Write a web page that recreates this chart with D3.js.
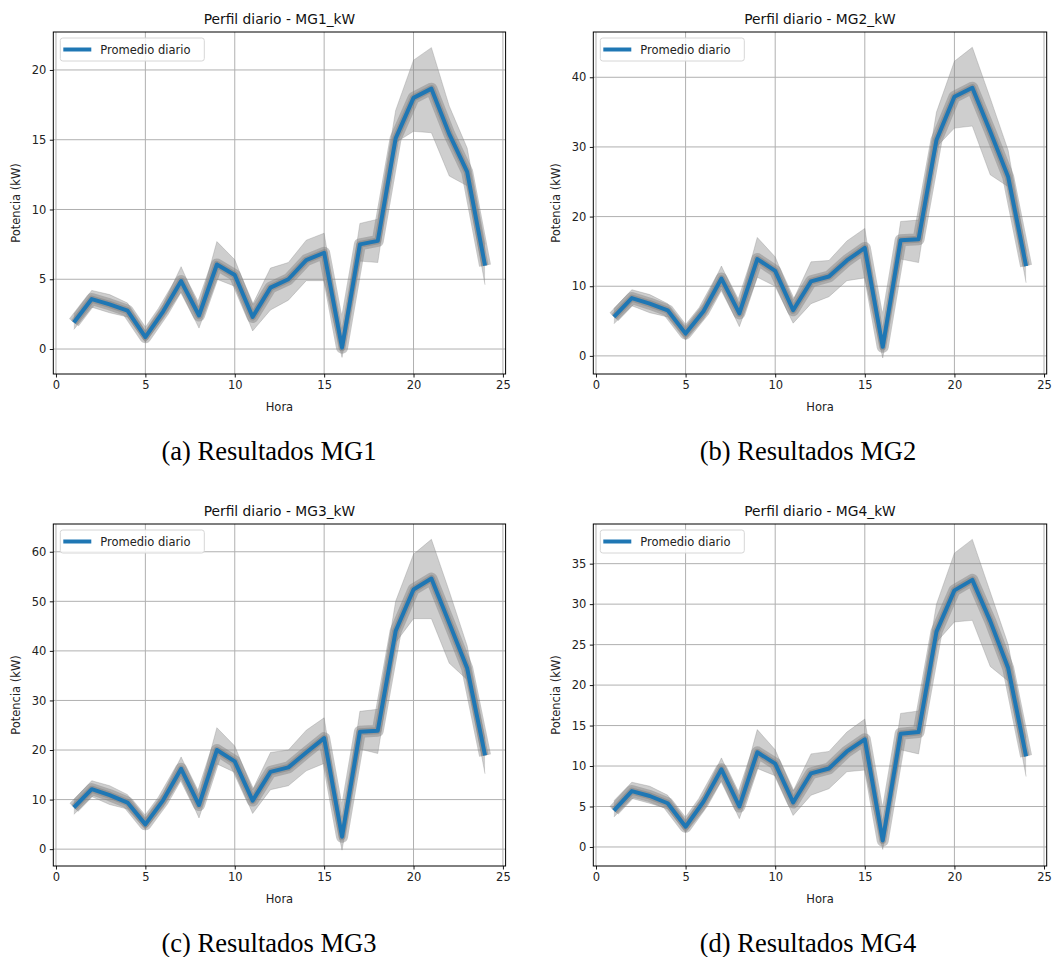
<!DOCTYPE html>
<html>
<head>
<meta charset="utf-8">
<script src="https://cdn.jsdelivr.net/npm/d3@7"></script>
<style>
  html, body { margin: 0; padding: 0; background: #fff; }
  svg { display: block; }
</style>
</head>
<body>
<svg id="chart" width="1059" height="957"></svg>
<script>
// ---------- DATA ----------
const hours = [1,2,3,4,5,6,7,8,9,10,11,12,13,14,15,16,17,18,19,20,21,22,23,24];
const xTicks = [0,5,10,15,20,25];

const titles = ["Perfil diario - MG1_kW","Perfil diario - MG2_kW","Perfil diario - MG3_kW","Perfil diario - MG4_kW"];
const captions = ["(a) Resultados MG1","(b) Resultados MG2","(c) Resultados MG3","(d) Resultados MG4"];

// Daily mean ("Promedio diario")
const mg1Mean = [1.9,3.58,3.2,2.75,0.85,2.7,4.87,2.4,6.06,5.3,2.3,4.4,5.0,6.37,6.9,0.1,7.5,7.75,15.1,18.0,18.66,15.4,12.7,5.97];
const mg2Mean = [5.6,8.3,7.5,6.55,3.2,6.4,11.1,6.1,13.9,12.2,6.55,10.7,11.4,13.7,15.5,1.3,16.6,16.75,31.0,37.2,38.5,32.2,25.7,12.9];
const mg3Mean = [8.4,12.1,10.9,9.4,5.0,9.9,16.2,8.9,20.0,17.7,9.8,15.6,16.5,19.5,22.4,2.5,23.7,23.9,44.0,52.4,54.6,45.6,36.5,18.9];
const mg4Mean = [4.5,6.9,6.3,5.4,2.5,5.6,9.6,5.0,11.7,10.3,5.5,9.1,9.7,11.8,13.3,0.8,14.0,14.2,26.6,31.7,33.0,27.9,22.1,11.2];

// Envelope of the individual daily profiles (upper / lower)
const mg1Upper = [2.5,4.2,3.9,3.3,1.3,3.2,5.9,3.0,7.7,6.4,3.2,5.8,6.2,7.8,8.3,0.6,9.0,9.3,17.1,20.7,21.6,17.4,14.4,7.5];
const mg1Lower = [1.4,3.0,2.6,2.3,0.5,2.2,4.1,1.5,5.0,4.5,1.3,2.8,3.5,4.9,4.9,-0.6,6.3,6.2,14.8,15.6,15.5,12.4,11.7,4.6];
const mg2Upper = [6.8,9.5,8.8,7.5,4.2,7.5,12.9,7.5,17.0,14.2,8.0,13.5,13.7,16.5,18.3,2.0,19.3,19.5,35.0,42.3,44.3,37.0,29.5,15.0];
const mg2Lower = [4.6,7.2,6.2,5.6,2.3,5.3,9.6,4.2,11.3,10.0,4.7,7.5,8.5,10.8,11.2,-0.3,13.9,13.4,30.0,32.7,33.0,26.0,24.3,10.5];
const mg3Upper = [10.0,13.8,12.8,11.0,6.3,11.3,18.6,11.0,24.5,20.8,12.0,19.5,20.0,24.0,26.5,4.0,27.8,28.2,50.0,59.5,62.5,52.0,41.0,22.3];
const mg3Lower = [7.0,10.6,9.0,8.1,4.0,8.5,14.2,6.3,17.2,15.5,7.2,12.0,12.8,15.8,17.3,-0.2,20.2,19.3,41.7,46.5,46.5,37.5,34.2,15.2];
const mg4Upper = [5.7,8.0,7.5,6.4,3.3,6.4,11.0,6.3,14.5,12.0,6.9,11.5,11.8,14.2,15.8,1.8,16.5,16.8,30.0,36.3,38.0,31.5,25.0,13.5];
const mg4Lower = [3.7,6.0,5.4,4.7,1.8,4.5,8.2,3.5,9.7,8.8,3.9,6.4,7.2,9.3,9.5,-0.3,12.0,11.5,25.3,27.8,28.0,22.3,20.5,8.7];

// Y axis ticks and limits
const mg1YTicks = [0,5,10,15,20];
const mg2YTicks = [0,10,20,30,40];
const mg3YTicks = [0,10,20,30,40,50,60];
const mg4YTicks = [0,5,10,15,20,25,30,35];
const yLimits = [[-1.79,22.72],[-2.6,46.5],[-3.4,65.6],[-2.35,39.9]];
const xLimits = [-0.15,25.15];

const panelsData = [
  {mean: mg1Mean, upper: mg1Upper, lower: mg1Lower, yTicks: mg1YTicks},
  {mean: mg2Mean, upper: mg2Upper, lower: mg2Lower, yTicks: mg2YTicks},
  {mean: mg3Mean, upper: mg3Upper, lower: mg3Lower, yTicks: mg3YTicks},
  {mean: mg4Mean, upper: mg4Upper, lower: mg4Lower, yTicks: mg4YTicks}
];

// ---------- LAYOUT ----------
const boxes = [
  {x0: 53.3, x1: 505.6, y0: 32, y1: 374, cx: 269, cy: 461},
  {x0: 593.3, x1: 1046.7, y0: 32, y1: 374, cx: 808, cy: 461},
  {x0: 53.3, x1: 505.6, y0: 524, y1: 866, cx: 269, cy: 953},
  {x0: 593.3, x1: 1046.7, y0: 524, y1: 866, cx: 808, cy: 953}
];

const svg = d3.select("#chart");
const SANS = "DejaVu Sans, sans-serif";
const blue = "#1f77b4";

panelsData.forEach((p, i) => {
  const b = boxes[i];
  const x = d3.scaleLinear().domain(xLimits).range([b.x0, b.x1]);
  const y = d3.scaleLinear().domain(yLimits[i]).range([b.y1, b.y0]);
  const g = svg.append("g");

  const clipId = "clip" + i;
  g.append("clipPath").attr("id", clipId).append("rect")
    .attr("x", b.x0).attr("y", b.y0).attr("width", b.x1 - b.x0).attr("height", b.y1 - b.y0);

  // grid
  const grid = g.append("g");
  grid.selectAll("line.vx").data(xTicks).enter().append("line")
    .attr("x1", d => x(d)).attr("x2", d => x(d)).attr("y1", b.y0).attr("y2", b.y1)
    .attr("stroke", "#b0b0b0").attr("stroke-width", 1);
  grid.selectAll("line.hy").data(p.yTicks).enter().append("line")
    .attr("x1", b.x0).attr("x2", b.x1).attr("y1", d => y(d)).attr("y2", d => y(d))
    .attr("stroke", "#b0b0b0").attr("stroke-width", 1);

  const plot = g.append("g").attr("clip-path", `url(#${clipId})`);
  const idx = hours.map((h, k) => k);

  // band of daily profiles
  const area = d3.area()
    .x(k => x(hours[k])).y0(k => y(p.lower[k])).y1(k => y(p.upper[k]));
  plot.append("path").datum(idx).attr("d", area)
    .attr("fill", "#8a8a8a").attr("fill-opacity", 0.42).attr("stroke", "none");

  const line = arr => d3.line().x(k => x(hours[k])).y(k => y(arr[k]));
  [p.upper, p.lower].forEach(arr => {
    plot.append("path").datum(idx).attr("d", line(arr))
      .attr("fill", "none").attr("stroke", "#808080").attr("stroke-opacity", 0.3).attr("stroke-width", 1);
  });
  // dense core of daily profiles
  plot.append("path").datum(idx).attr("d", line(p.mean))
    .attr("fill", "none").attr("stroke", "#808080").attr("stroke-opacity", 0.45)
    .attr("stroke-width", 12).attr("stroke-linejoin", "round");
  plot.append("path").datum(idx).attr("d", line(p.mean))
    .attr("fill", "none").attr("stroke", "#808080").attr("stroke-opacity", 0.5)
    .attr("stroke-width", 7).attr("stroke-linejoin", "round");

  // mean
  plot.append("path").datum(idx).attr("d", line(p.mean))
    .attr("fill", "none").attr("stroke", blue).attr("stroke-width", 4)
    .attr("stroke-linejoin", "round");

  // axes
  const xAxis = d3.axisBottom(x).tickValues(xTicks).tickSize(3.5).tickPadding(3.5).tickFormat(d3.format("d"));
  const yAxis = d3.axisLeft(y).tickValues(p.yTicks).tickSize(3.5).tickPadding(3.5).tickFormat(d3.format("d"));
  const gx = g.append("g").attr("transform", `translate(0,${b.y1})`).call(xAxis);
  const gy = g.append("g").attr("transform", `translate(${b.x0},0)`).call(yAxis);
  [gx, gy].forEach(ax => {
    ax.select(".domain").remove();
    ax.selectAll("line").attr("stroke", "#000").attr("stroke-width", 0.9);
    ax.selectAll("text").attr("font-family", SANS).attr("font-size", 11.5).attr("fill", "#222");
  });

  // spines
  g.append("rect").attr("x", b.x0).attr("y", b.y0).attr("width", b.x1 - b.x0).attr("height", b.y1 - b.y0)
    .attr("fill", "none").attr("stroke", "#000").attr("stroke-width", 1);

  // title
  g.append("text").attr("x", (b.x0 + b.x1) / 2).attr("y", b.y0 - 8)
    .attr("text-anchor", "middle").attr("font-family", SANS).attr("font-size", 13.8).attr("fill", "#111")
    .text(titles[i]);

  // axis labels
  g.append("text").attr("x", (b.x0 + b.x1) / 2).attr("y", b.y1 + 37)
    .attr("text-anchor", "middle").attr("font-family", SANS).attr("font-size", 11.5).attr("fill", "#222")
    .text("Hora");
  g.append("text")
    .attr("transform", `translate(${b.x0 - 33},${(b.y0 + b.y1) / 2}) rotate(-90)`)
    .attr("text-anchor", "middle").attr("font-family", SANS).attr("font-size", 11.5).attr("fill", "#222")
    .text("Potencia (kW)");

  // legend
  const lg = g.append("g").attr("transform", `translate(${b.x0 + 7},${b.y0 + 6})`);
  lg.append("rect").attr("x", 0).attr("y", 0).attr("width", 144).attr("height", 23).attr("rx", 2.5)
    .attr("fill", "#fff").attr("fill-opacity", 0.85).attr("stroke", "#d6d6d6").attr("stroke-width", 1);
  lg.append("line").attr("x1", 3).attr("x2", 31).attr("y1", 11.5).attr("y2", 11.5)
    .attr("stroke", blue).attr("stroke-width", 4);
  lg.append("text").attr("x", 40).attr("y", 15.5).attr("font-family", SANS).attr("font-size", 11.5).attr("fill", "#222")
    .text("Promedio diario");

  // caption
  svg.append("text").attr("x", b.cx).attr("y", b.cy - 1)
    .attr("text-anchor", "middle").attr("font-family", "Liberation Serif, Times New Roman, serif")
    .attr("font-size", 26.5).attr("fill", "#000")
    .text(captions[i]);
});
</script>
</body>
</html>
